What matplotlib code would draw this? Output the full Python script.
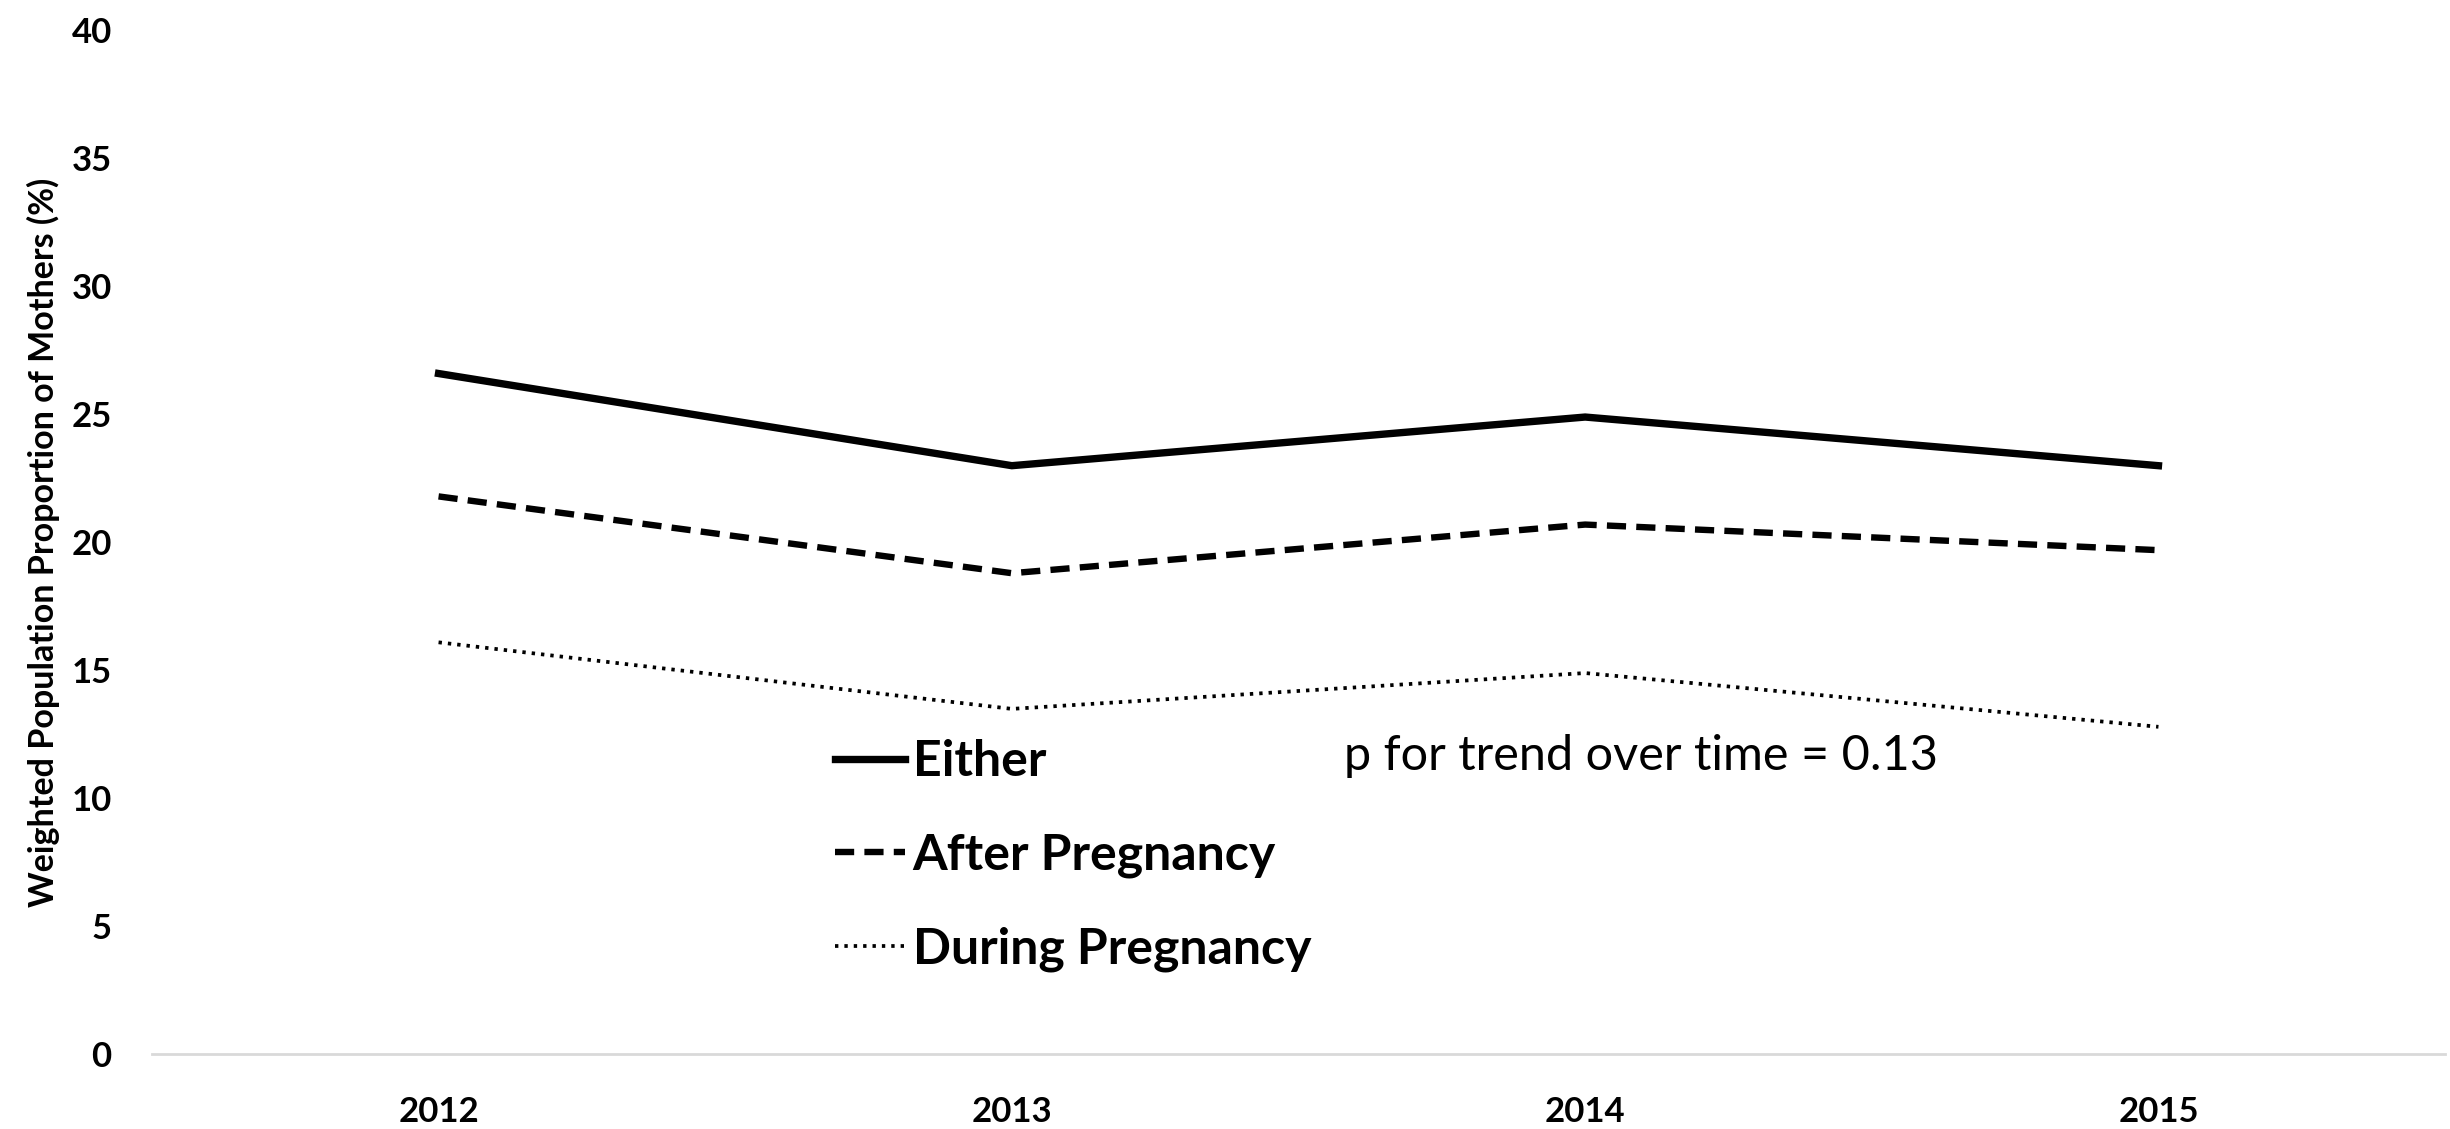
import matplotlib
matplotlib.use("Agg")
import matplotlib.pyplot as plt

years = ["2012", "2013", "2014", "2015"]
either = [26.6, 23.0, 24.9, 23.0]
after_pregnancy = [21.8, 18.8, 20.7, 19.7]
during_pregnancy = [16.1, 13.5, 14.9, 12.8]
y_ticks = [0, 5, 10, 15, 20, 25, 30, 35, 40]

plt.rcParams["font.family"] = ["Lato", "DejaVu Sans"]

fig = plt.figure(figsize=(24.5, 11.29), dpi=100)
ax = fig.add_axes([0.062, 0.066, 0.936, 0.907])

x = range(len(years))
ax.plot(x, either, color="black", lw=5.3, ls="-", label="Either",
        solid_joinstyle="miter")
ax.plot(x, after_pregnancy, color="black", lw=4.6, ls=(0, (3.0, 1.6)),
        label="After Pregnancy")
ax.plot(x, during_pregnancy, color="black", lw=2.7, ls=(0, (0.9, 1.6)),
        label="During Pregnancy")

ax.set_xlim(-0.5, 3.5)
ax.set_ylim(0, 40)
ax.set_yticks(y_ticks)
ax.set_xticks(list(x))
ax.set_xticklabels(years)
ax.tick_params(axis="both", length=0, labelsize=25)
ax.tick_params(axis="y", pad=29)
ax.tick_params(axis="x", pad=30)
for lab in ax.get_xticklabels() + ax.get_yticklabels():
    lab.set_fontweight("bold")

for side in ["top", "right", "left"]:
    ax.spines[side].set_visible(False)
ax.spines["bottom"].set_color("#d9d9d9")
ax.spines["bottom"].set_linewidth(2.0)

ax.set_ylabel("Weighted Population Proportion of Mothers (%)", fontsize=24.5,
              fontweight="bold", labelpad=8)

leg = ax.legend(loc="center left", bbox_to_anchor=(0.298, 0.194), frameon=False,
                prop={"size": 36, "weight": "bold"}, handlelength=1.4,
                handletextpad=0.15, labelspacing=0.97, borderaxespad=0,
                borderpad=0)

ax.text(0.52, 0.2915, "p for trend over time = 0.13", transform=ax.transAxes,
        fontsize=35, va="center", ha="left")

fig.savefig("out.png", dpi=100)
